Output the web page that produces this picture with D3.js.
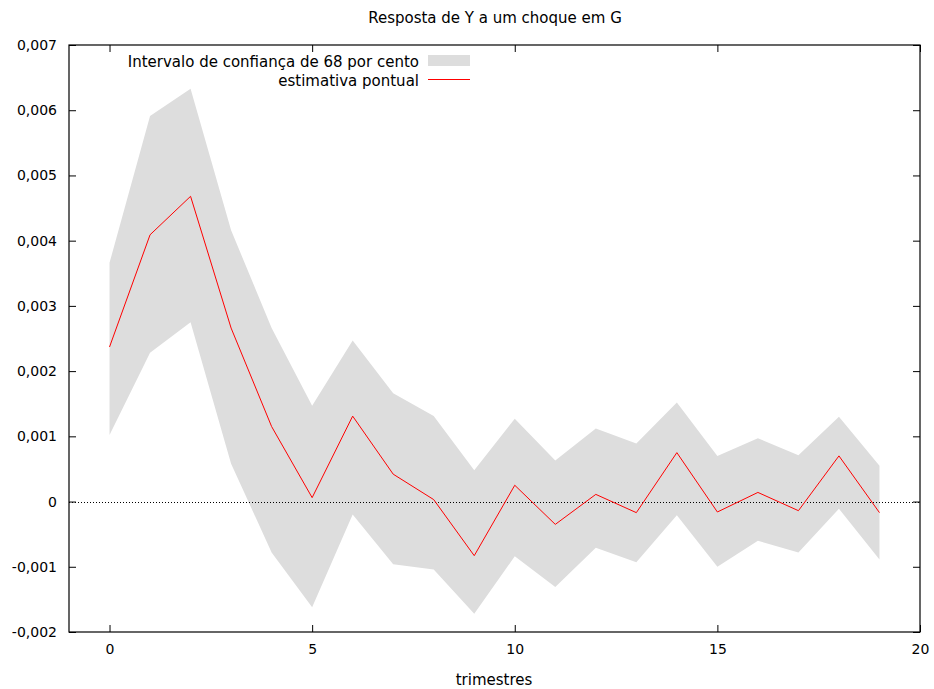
<!DOCTYPE html>
<html>
<head>
<meta charset="utf-8">
<script src="https://cdn.jsdelivr.net/npm/d3@7"></script>
<style>
  body { margin: 0; background: #fff; }
  text { font-family: "DejaVu Sans", sans-serif; font-size: 15px; fill: #000; }
</style>
</head>
<body>
<svg id="chart" width="934" height="689"></svg>
<script>
// horizon (trimestres)
var periods = d3.range(0, 20);

// estimativa pontual
var pointEst = [0.00237, 0.00409, 0.00468, 0.00266, 0.00115, 0.00006, 0.00131, 0.00042, 0.00003, -0.00083,
                0.00025, -0.00035, 0.00011, -0.00017, 0.00075, -0.00016, 0.00014, -0.00014, 0.00070, -0.00017];

// intervalo de confianca 68%
var upperBand = [0.00366, 0.00591, 0.00633, 0.00416, 0.00266, 0.00147, 0.00247, 0.00166, 0.00131, 0.00048,
                 0.00127, 0.00063, 0.00112, 0.00089, 0.00152, 0.00070, 0.00097, 0.00071, 0.00130, 0.00055];
var lowerBand = [0.00102, 0.00228, 0.00275, 0.00058, -0.00078, -0.00162, -0.00020, -0.00096, -0.00104, -0.00172,
                 -0.00084, -0.00131, -0.00071, -0.00093, -0.00021, -0.00100, -0.00060, -0.00078, -0.00011, -0.00089];

var xTicks = [0, 5, 10, 15, 20];
var yTicks = [-0.002, -0.001, 0, 0.001, 0.002, 0.003, 0.004, 0.005, 0.006, 0.007];

var svg = d3.select("#chart");
var plot = { left: 69, right: 920, top: 45, bottom: 632 };

var x = d3.scaleLinear().domain([-1, 20]).range([plot.left, plot.right]);
var y = d3.scaleLinear().domain([-0.002, 0.007]).range([plot.bottom, plot.top]);

var fmtY = function(v) {
  if (Math.abs(v) < 1e-12) return "0";
  return d3.format(".3f")(v).replace(".", ",").replace("\u2212", "-");
};

var rows = periods.map(function(p, i) {
  return { p: p, est: pointEst[i], lo: lowerBand[i], hi: upperBand[i] };
});

// band
var area = d3.area()
  .x(function(d) { return x(d.p); })
  .y0(function(d) { return y(d.lo); })
  .y1(function(d) { return y(d.hi); });

svg.append("path")
  .datum(rows)
  .attr("d", area)
  .attr("fill", "#dddddd");

// zero line
svg.append("line")
  .attr("x1", plot.left).attr("x2", plot.right)
  .attr("y1", Math.round(y(0)) + 0.5).attr("y2", Math.round(y(0)) + 0.5)
  .attr("stroke", "#000")
  .attr("stroke-width", 1)
  .attr("stroke-dasharray", "1,2");

// point estimate
var line = d3.line()
  .x(function(d) { return x(d.p); })
  .y(function(d) { return y(d.est); });

svg.append("path")
  .datum(rows)
  .attr("d", line)
  .attr("fill", "none")
  .attr("stroke", "#ff0000")
  .attr("stroke-width", 1);

// axes (ticks inward, mirrored)
var tickLen = 7;
svg.append("g")
  .attr("transform", "translate(0," + plot.bottom + ")")
  .call(d3.axisBottom(x).tickValues(xTicks).tickSize(-tickLen).tickPadding(12).tickFormat(d3.format("d")))
  .call(function(g) { g.select(".domain").remove(); });
svg.append("g")
  .attr("transform", "translate(0," + plot.top + ")")
  .call(d3.axisTop(x).tickValues(xTicks).tickSize(-tickLen).tickFormat(""))
  .call(function(g) { g.select(".domain").remove(); });
svg.append("g")
  .attr("transform", "translate(" + plot.left + ",0)")
  .call(d3.axisLeft(y).tickValues(yTicks).tickSize(-tickLen).tickPadding(12).tickFormat(fmtY))
  .call(function(g) { g.select(".domain").remove(); });
svg.append("g")
  .attr("transform", "translate(" + plot.right + ",0)")
  .call(d3.axisRight(y).tickValues(yTicks).tickSize(-tickLen).tickFormat(""))
  .call(function(g) { g.select(".domain").remove(); });

svg.selectAll(".tick text")
  .style("font-family", "'DejaVu Sans', sans-serif")
  .style("font-size", "14px")
  .attr("fill", "#000");

// frame
svg.append("rect")
  .attr("x", plot.left).attr("y", plot.top)
  .attr("width", plot.right - plot.left).attr("height", plot.bottom - plot.top)
  .attr("fill", "none")
  .attr("stroke", "#000")
  .attr("stroke-width", 1.2);

// title and label
svg.append("text")
  .attr("x", 495).attr("y", 23)
  .attr("text-anchor", "middle")
  .text("Resposta de Y a um choque em G");

svg.append("text")
  .attr("x", 494).attr("y", 685)
  .attr("text-anchor", "middle")
  .text("trimestres");

// legend
var legend = svg.append("g");
legend.append("text")
  .attr("x", 419).attr("y", 66.5)
  .attr("text-anchor", "end")
  .text("Intervalo de confiança de 68 por cento");
legend.append("rect")
  .attr("x", 428).attr("y", 55)
  .attr("width", 42).attr("height", 11)
  .attr("fill", "#dddddd");
legend.append("text")
  .attr("x", 419).attr("y", 86)
  .attr("text-anchor", "end")
  .text("estimativa pontual");
legend.append("line")
  .attr("x1", 428).attr("x2", 470)
  .attr("y1", 79.5).attr("y2", 79.5)
  .attr("stroke", "#ff0000")
  .attr("stroke-width", 1);
</script>
</body>
</html>
